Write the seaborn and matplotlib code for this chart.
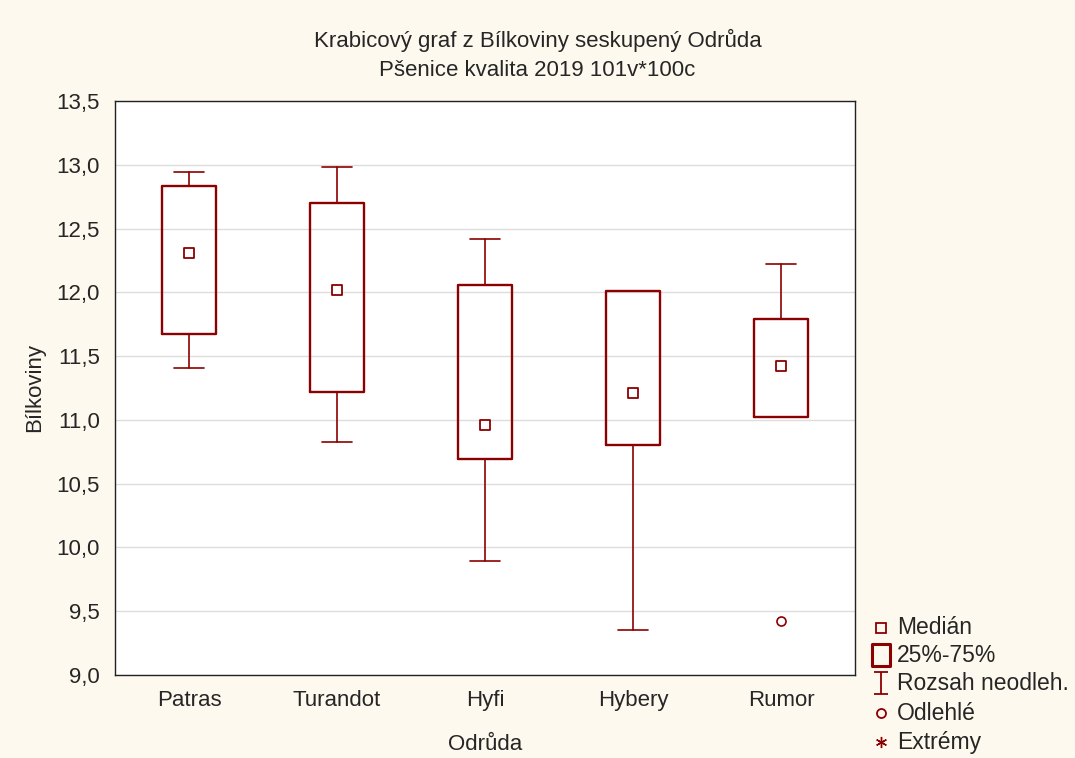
import numpy as np
import pandas as pd
import matplotlib
matplotlib.use("Agg")
import matplotlib.pyplot as plt
from matplotlib.path import Path
import seaborn as sns

# ---- data ----
categories = ["Patras", "Turandot", "Hyfi", "Hybery", "Rumor"]
whisker_low = [11.41, 10.83, 9.89, 9.35, 11.02]
q1 = [11.67, 11.22, 10.69, 10.80, 11.02]
medians = [12.31, 12.02, 10.96, 11.21, 11.42]
q3 = [12.83, 12.70, 12.06, 12.01, 11.79]
whisker_high = [12.94, 12.98, 12.42, 12.01, 12.22]
outliers = [[], [], [], [], [9.42]]
yticks = [9.0, 9.5, 10.0, 10.5, 11.0, 11.5, 12.0, 12.5, 13.0, 13.5]
title_lines = ["Krabicový graf z Bílkoviny seskupený Odrůda",
               "Pšenice kvalita 2019 101v*100c"]
legend_labels = ["Medián", "25%-75%", "Rozsah neodleh.", "Odlehlé", "Extrémy"]

RED = "#8B0000"
FS = 16

sns.set_theme(style="white")
plt.rcParams["font.family"] = ["Liberation Sans", "DejaVu Sans"]

W, H = 1075, 758
fig = plt.figure(figsize=(W / 100, H / 100), dpi=100, facecolor="#FDF9EE")
ax = fig.add_axes([115 / W, 1 - 675 / H, 740 / W, 574 / H])
ax.set_facecolor("white")

stats = []
for i, c in enumerate(categories):
    stats.append(dict(label=c, whislo=whisker_low[i], q1=q1[i], med=medians[i],
                      q3=q3[i], whishi=whisker_high[i], fliers=outliers[i]))

ax.bxp(stats, positions=range(len(categories)), widths=0.37, showfliers=True,
       boxprops=dict(color=RED, linewidth=1.7),
       whiskerprops=dict(color=RED, linewidth=1.2),
       capprops=dict(color=RED, linewidth=1.2),
       capwidths=0.2,
       medianprops=dict(linestyle="none"),
       flierprops=dict(marker="o", markerfacecolor="none", markeredgecolor=RED,
                       markersize=6.5, markeredgewidth=1.2),
       zorder=3)

med_df = pd.DataFrame({"x": range(len(categories)), "y": medians})
sns.scatterplot(data=med_df, x="x", y="y", marker="s", s=55, facecolor="white",
                edgecolor=RED, linewidth=1.3, ax=ax, zorder=4, legend=False)

ax.set_xlim(-0.5, len(categories) - 0.5)
ax.set_ylim(9.0, 13.5)
ax.set_xticks(range(len(categories)))
ax.set_xticklabels(categories, fontsize=FS)
ax.set_yticks(yticks)
ax.set_yticklabels([f"{v:.1f}".replace(".", ",") for v in yticks], fontsize=FS)
ax.yaxis.grid(True, color="#DDDDDD", linewidth=1.0)
ax.xaxis.grid(False)
ax.set_axisbelow(True)
ax.tick_params(axis="y", direction="out", length=3, width=1, color="black", pad=8)
ax.tick_params(axis="x", length=0, pad=11)
for s in ax.spines.values():
    s.set_color("#222222")
    s.set_linewidth(1.0)
ax.set_xlabel("Odrůda", fontsize=FS, labelpad=16)
ax.set_ylabel("Bílkoviny", fontsize=FS, labelpad=8)

fig.text(0.5, 1 - 40 / H, title_lines[0], ha="center", va="center", fontsize=16)
fig.text(0.5, 1 - 70 / H, title_lines[1], ha="center", va="center", fontsize=16)

# ---- legend drawn on a pixel-coordinate overlay ----
ov = fig.add_axes([0, 0, 1, 1], facecolor="none")
ov.set_xlim(0, W)
ov.set_ylim(H, 0)
ov.axis("off")

ibeam = Path([(-0.6, 1), (0.6, 1), (0, 1), (0, -1), (-0.6, -1), (0.6, -1)],
             [Path.MOVETO, Path.LINETO, Path.MOVETO, Path.LINETO, Path.MOVETO, Path.LINETO])
bigbox = Path([(-0.39, -0.5), (0.39, -0.5), (0.39, 0.5), (-0.39, 0.5), (-0.39, -0.5)],
              [Path.MOVETO, Path.LINETO, Path.LINETO, Path.LINETO, Path.CLOSEPOLY])
marker_specs = [
    dict(marker="s", markersize=7.5, markeredgewidth=1.3, markerfacecolor="none"),
    dict(marker=bigbox, markersize=16, markeredgewidth=2.2, markerfacecolor="none"),
    dict(marker=ibeam, markersize=16, markeredgewidth=1.3, markerfacecolor="none"),
    dict(marker="o", markersize=6.5, markeredgewidth=1.3, markerfacecolor="none"),
    dict(marker=(6, 2, 0), markersize=8, markeredgewidth=1.0),
]
legend_y = [628, 655, 683, 713, 742]
for lab, spec, y in zip(legend_labels, marker_specs, legend_y):
    ov.plot([881], [y], linestyle="none", markeredgecolor=RED, color=RED, **spec)
    ov.text(897, y, lab, ha="left", va="center", fontsize=16.5)

fig.savefig("out.png", dpi=100, facecolor=fig.get_facecolor())
